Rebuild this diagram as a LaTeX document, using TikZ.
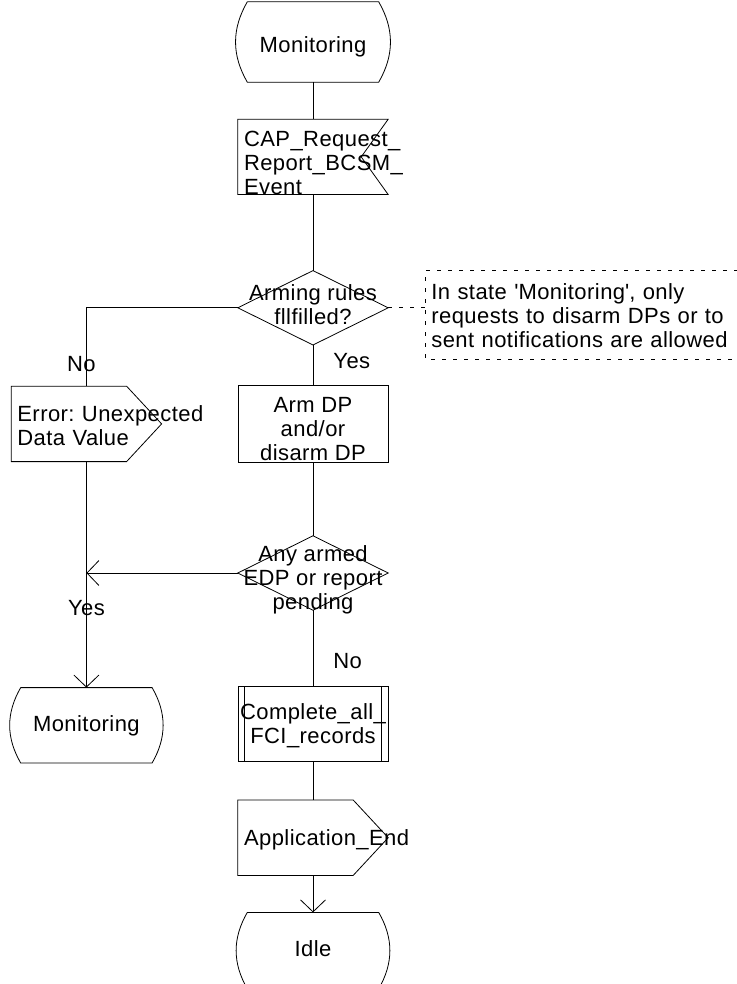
\documentclass[tikz,border=0pt]{standalone}
\usepackage{fontspec}
\setmainfont{Liberation Sans}[LetterSpace=2]
\frenchspacing
\usetikzlibrary{positioning, arrows.meta}
\tikzset{outline/.style={line width=0.8pt},
sym/.style={align=center, inner xsep=2pt, inner ysep=0pt, text depth=0pt, font=\fontsize{22}{24}\selectfont},
statebox/.style={sym, minimum width=153pt, minimum height=76pt,
  append after command={\pgfextra{\draw[outline] ([xshift=11pt]\tikzlastnode.north west) -- ([xshift=-11pt]\tikzlastnode.north east)
    to[out=-60, in=60] ([xshift=-11pt]\tikzlastnode.south east) -- ([xshift=11pt]\tikzlastnode.south west)
    to[out=120, in=-120] ([xshift=11pt]\tikzlastnode.north west);}}},
inbox/.style={sym, align=left, text width=138pt, inner xsep=6pt, minimum height=75pt,
  execute at begin node={\hyphenpenalty=10000 },
  append after command={\pgfextra{\draw[outline] (\tikzlastnode.north west) -- (\tikzlastnode.north east)
    -- ([xshift=-27pt]\tikzlastnode.east) -- (\tikzlastnode.south east) -- (\tikzlastnode.south west) -- cycle;}}},
outbox/.style={sym, align=left, text width=138pt, inner xsep=6pt, minimum height=75pt,
  execute at begin node={\hyphenpenalty=10000 },
  append after command={\pgfextra{\draw[outline] (\tikzlastnode.north west) -- ([xshift=-35pt]\tikzlastnode.north east)
    -- (\tikzlastnode.east) -- ([xshift=-35pt]\tikzlastnode.south east) -- (\tikzlastnode.south west) -- cycle;}}},
decision/.style={sym, minimum width=150pt, minimum height=74pt,
  append after command={\pgfextra{\draw[outline] (\tikzlastnode.north) -- (\tikzlastnode.east)
    -- (\tikzlastnode.south) -- (\tikzlastnode.west) -- cycle;}}},
taskbox/.style={sym, draw, outline, minimum width=150pt, minimum height=77pt},
procbox/.style={sym, draw, outline, minimum width=150pt, minimum height=75pt,
  append after command={\pgfextra{\draw[outline] ([xshift=7pt]\tikzlastnode.north west) -- ([xshift=7pt]\tikzlastnode.south west)
    ([xshift=-7pt]\tikzlastnode.north east) -- ([xshift=-7pt]\tikzlastnode.south east);}}},
notebox/.style={sym, align=left, text width=300pt, inner xsep=6pt, minimum height=88pt,
  execute at begin node={\hyphenpenalty=10000 },
  append after command={\pgfextra{\draw[outline, dash pattern=on 4pt off 7pt] (\tikzlastnode.north east) -- (\tikzlastnode.north west)
    -- (\tikzlastnode.south west) -- (\tikzlastnode.south east);}}},
lbl/.style={inner sep=0pt, font=\fontsize{22}{24}\selectfont},
conn/.style={outline},
flowarr/.style={outline, -{Straight Barb[length=12pt, width=25pt]}}}

\begin{document}
\begin{tikzpicture}[x=1pt, y=1pt]
  \useasboundingbox (0,0) rectangle (736,-984);
  \node[statebox, minimum height=80pt, text height=22pt] (mon1) at (313,-42) {Monitoring};
  \node[inbox, below=37pt of mon1, text height=20pt, text depth=41pt] (req) {CAP\_Request\_\\Report\_BCSM\_\\Event};
  \node[decision, below=76pt of req, text height=33pt] (rules) {Arming rules\\fllfilled?};
  \node[notebox, right=37pt of rules, yshift=-7pt, text height=20pt, text depth=50pt] (note) {In state \textquotesingle Monitoring\textquotesingle, only\\requests to disarm DPs or to\\sent notifications are allowed};
  \node[taskbox, below=40pt of rules, text height=73pt] (armdp) {Arm DP\\and/or\\disarm DP};
  \node[outbox, left=76pt of armdp, text height=20pt, text depth=25pt] (err) {\mbox{Error: Unexpected}\\Data Value};
  \node[decision, below=73pt of armdp, text height=72pt] (pend) {Any armed\\EDP or report\\pending};
  \node[procbox, below=76pt of pend, text height=39pt] (fci) {Complete\_all\_\\FCI\_records};
  \node[statebox, minimum height=75pt, below=226pt of err, text height=13pt] (mon2) {Monitoring};
  \node[outbox, below=38pt of fci, text height=15pt] (appl) {Application\_End};
  \node[statebox, below=37pt of appl, text height=12pt] (idle) {Idle};
  \coordinate (merge) at (err.south |- pend.west);

  \draw[conn] (mon1.south) -- (req.north);
  \draw[conn] (req.south) -- (rules.north);
  \draw[conn] (rules.west) -| node[lbl, pos=0.86, xshift=-5pt] {No} (err.north);
  \draw[conn] (rules.south) -- node[lbl, pos=0.4, right=20pt] {Yes} (armdp.north);
  \draw[conn, dash pattern=on 4pt off 7pt] (rules.east) -- (rules.east -| note.west);
  \draw[conn] (armdp.south) -- (pend.north);
  \draw[flowarr] (pend.west) -- (merge);
  \draw[flowarr] (err.south) -- node[lbl, pos=0.65] {Yes} (mon2.north);
  \draw[conn] (pend.south) -- node[lbl, pos=0.67, right=20pt] {No} (fci.north);
  \draw[conn] (fci.south) -- (appl.north);
  \draw[flowarr] (appl.south) -- (idle.north);
\end{tikzpicture}
\end{document}
